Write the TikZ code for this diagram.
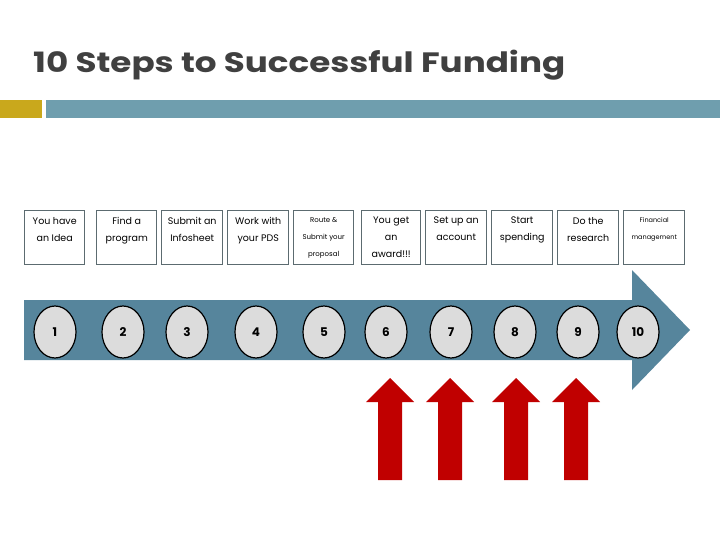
\documentclass[tikz,border=0pt]{standalone}
\usepackage{fontspec}
\setmainfont{Poppins}
\usetikzlibrary{shapes.geometric}
\definecolor{gold}{HTML}{C9A81C}
\definecolor{teal}{HTML}{6F9EAE}
\definecolor{arrowblue}{HTML}{56859C}
\definecolor{boxline}{HTML}{5C6B70}
\definecolor{redarrow}{HTML}{C00000}
\definecolor{ellfill}{HTML}{DCDCDC}
\begin{document}
\begin{tikzpicture}[x=1pt,y=-1pt,
  stepbox/.style={draw=boxline,line width=1.4pt,minimum width=60pt,minimum height=54pt,anchor=north west},
  steptext/.style={anchor=north,inner sep=0pt,align=center,font=\fontsize{9.5}{17}\selectfont},
  num/.style={ellipse,draw=black,line width=1.2pt,fill=ellfill,minimum width=42pt,minimum height=52pt,inner sep=0pt,font=\bfseries\fontsize{12}{12}\selectfont},
  uparrow/.style={fill=redarrow}]
\useasboundingbox (0,0) rectangle (720,540);
\fill[white] (0,0) rectangle (720,540);
\node[anchor=base west,inner sep=0pt,font=\bfseries\fontsize{28}{30}\selectfont,text=black!75,xscale=1.22] (title) at (33,73) {10 Steps to Successful Funding};
\fill[gold] (0,100) rectangle (42,118);
\fill[teal] (46,100) rectangle (720,118);
\fill[arrowblue] (24,300) -- (632,300) -- (632,270) -- (690,330) -- (632,390) -- (632,360) -- (24,360) -- cycle;
\foreach \x/\w/\t [count=\i] in {24/60/{You have\\an Idea},96/60/{Find a\\program},161/61/{Submit an\\Infosheet},227/61/{Work with\\your PDS},293/60/{\fontsize{7}{13}\selectfont Route \&\\\fontsize{7}{13}\selectfont Submit your\\\fontsize{7}{13}\selectfont proposal},361/59/{You get\\an\\award!!!},425/61/{Set up an\\account},491/61/{Start\\spending},557/61/{Do the\\research},623/61/{\fontsize{6.5}{14}\selectfont Financial\\\fontsize{6.5}{14}\selectfont management}}
  {\node[stepbox,minimum width=\w pt] (b\i) at (\x,210) {};
   \node[steptext] (t\i) at ([yshift=-7pt]b\i.north) {\t};}
\foreach \x [count=\i] in {55,123,187,256,324,386,451,515,578,638}
  \node[num] (n\i) at (\x,332) {\i};
\foreach \x [count=\i] in {390,450,516,576}
  \fill[uparrow] (\x-12,480) -- (\x-12,402) -- (\x-24,402) -- (\x,378) -- (\x+24,402) -- (\x+12,402) -- (\x+12,480) -- cycle;
\end{tikzpicture}
\end{document}
